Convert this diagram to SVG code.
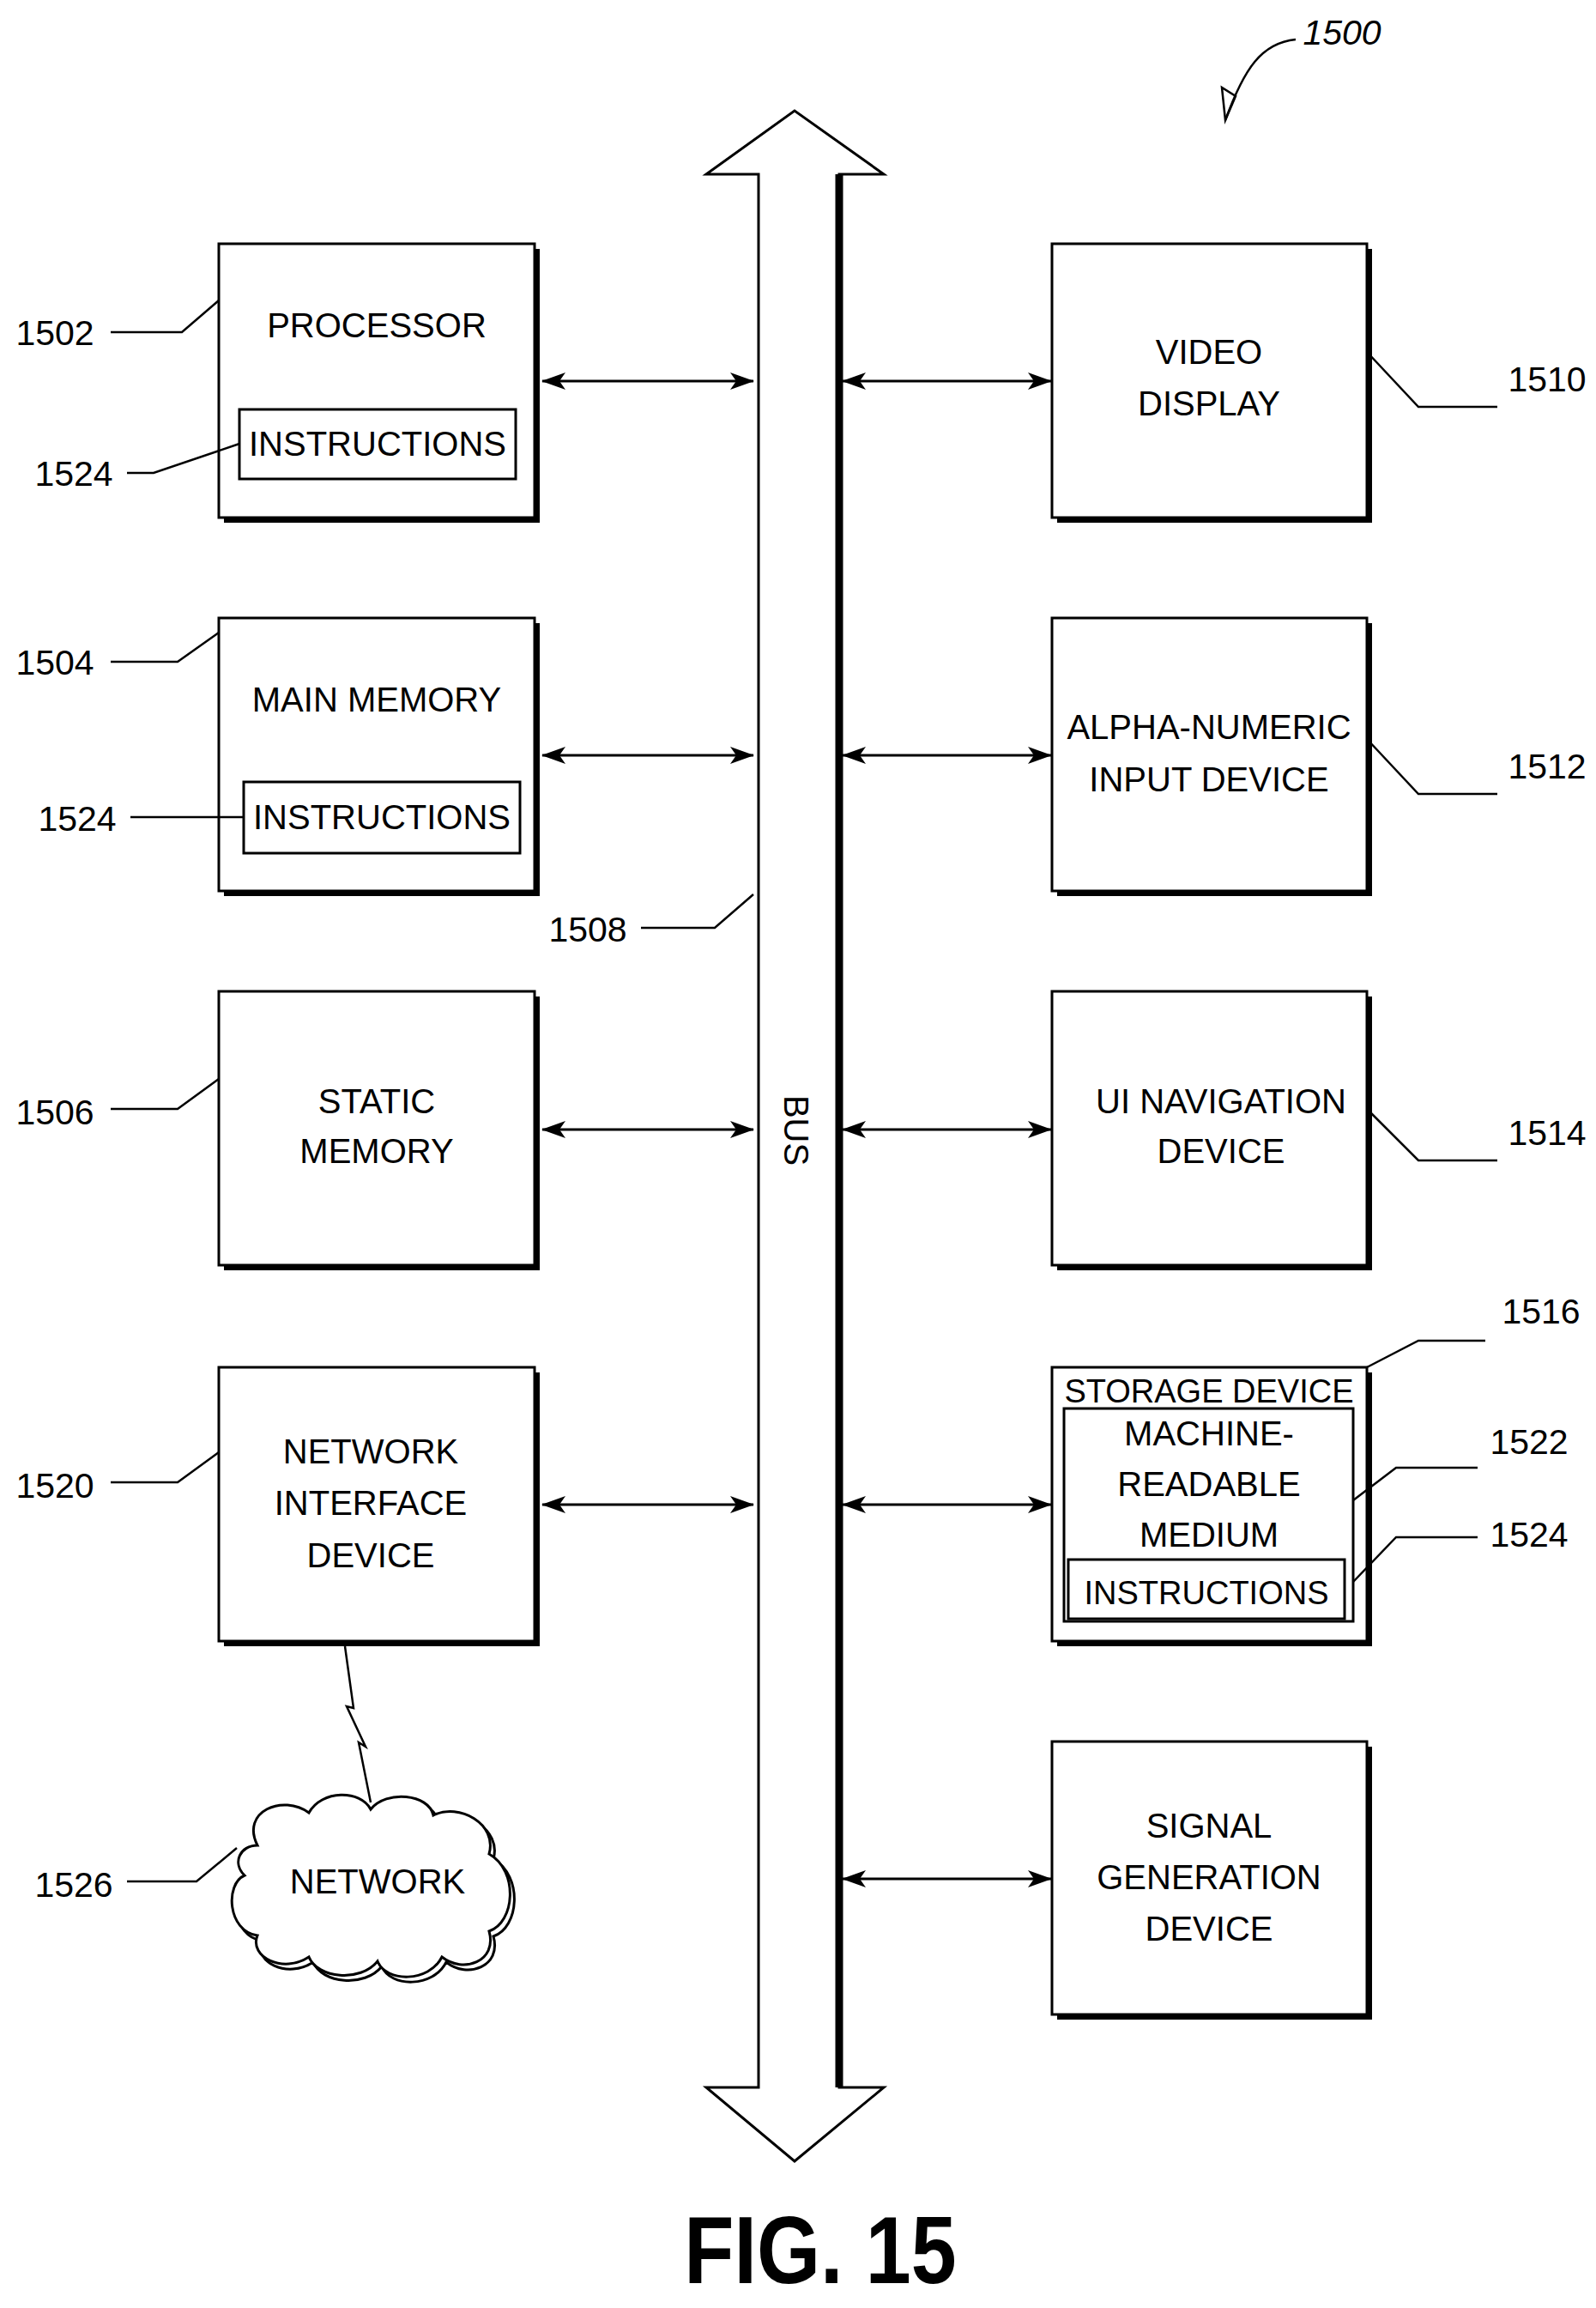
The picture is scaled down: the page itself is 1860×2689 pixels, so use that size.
<svg xmlns="http://www.w3.org/2000/svg" width="1860" height="2689" viewBox="0 0 1860 2689">
<style>
.sh{fill:#000}
.bx{fill:#fff;stroke:#000;stroke-width:3}
.ib{fill:none;stroke:#000;stroke-width:3}
.t{font-family:"Liberation Sans",Arial,sans-serif;font-size:40px;text-anchor:middle;fill:#000}
.n{font-family:"Liberation Sans",Arial,sans-serif;font-size:41px;text-anchor:middle;fill:#000}
.ld{fill:none;stroke:#000;stroke-width:2.5}
.ar{stroke:#000;stroke-width:3;marker-start:url(#a);marker-end:url(#a)}
</style>
<defs>
<marker id="a" viewBox="0 0 28 20" refX="27" refY="10" markerWidth="28" markerHeight="20" markerUnits="userSpaceOnUse" orient="auto-start-reverse">
<path d="M0,0 L28,10 L0,20 L7,10 Z" fill="#000"/>
</marker>
</defs>
<rect width="1860" height="2689" fill="#fff"/>

<g id="bus">
<path d="M884,203 L823,203 L926,129 L1030,203 L978,203 L978,2432 L1030,2432 L926,2518 L823,2432 L884,2432 Z" fill="#fff" stroke="#000" stroke-width="3"/>
<line x1="978" y1="203" x2="978" y2="2432" stroke="#000" stroke-width="9"/>
<text class="t" transform="translate(914,1317) rotate(90)">BUS</text>
</g>

<g id="n1502">
<rect class="sh" x="261" y="290" width="368" height="319"/>
<rect class="bx" x="255" y="284" width="368" height="319"/>
<text class="t" x="439" y="393">PROCESSOR</text>
<rect class="ib" x="279" y="477" width="322" height="81"/>
<text class="t" x="440" y="531">INSTRUCTIONS</text>
</g>
<g id="n1504">
<rect class="sh" x="261" y="726" width="368" height="318"/>
<rect class="bx" x="255" y="720" width="368" height="318"/>
<text class="t" x="439" y="829">MAIN MEMORY</text>
<rect class="ib" x="284" y="911" width="322" height="83"/>
<text class="t" x="445" y="966">INSTRUCTIONS</text>
</g>
<g id="n1506">
<rect class="sh" x="261" y="1161" width="368" height="319"/>
<rect class="bx" x="255" y="1155" width="368" height="319"/>
<text class="t" x="439" y="1297">STATIC</text>
<text class="t" x="439" y="1355">MEMORY</text>
</g>
<g id="n1520">
<rect class="sh" x="261" y="1599" width="368" height="319"/>
<rect class="bx" x="255" y="1593" width="368" height="319"/>
<text class="t" x="432" y="1705">NETWORK</text>
<text class="t" x="432" y="1765">INTERFACE</text>
<text class="t" x="432" y="1826">DEVICE</text>
</g>
<g id="n1526">
<path d="M300,2150 C280,2110 330,2090 360,2112 C375,2085 420,2085 432,2108 C450,2085 500,2090 505,2115 C535,2100 580,2125 570,2160 C605,2180 600,2240 570,2250 C580,2285 540,2300 515,2280 C500,2310 450,2310 440,2285 C420,2310 370,2305 360,2280 C330,2300 290,2280 300,2255 C265,2250 262,2195 285,2185 C270,2170 280,2150 300,2150 Z" fill="#fff" stroke="#000" stroke-width="3" transform="translate(5,6)"/>
<path d="M300,2150 C280,2110 330,2090 360,2112 C375,2085 420,2085 432,2108 C450,2085 500,2090 505,2115 C535,2100 580,2125 570,2160 C605,2180 600,2240 570,2250 C580,2285 540,2300 515,2280 C500,2310 450,2310 440,2285 C420,2310 370,2305 360,2280 C330,2300 290,2280 300,2255 C265,2250 262,2195 285,2185 C270,2170 280,2150 300,2150 Z" fill="#fff" stroke="#000" stroke-width="3"/>
<text class="t" x="440" y="2206">NETWORK</text>
</g>

<g id="n1510">
<rect class="sh" x="1232" y="290" width="367" height="319"/>
<rect class="bx" x="1226" y="284" width="367" height="319"/>
<text class="t" x="1409" y="424">VIDEO</text>
<text class="t" x="1409" y="484">DISPLAY</text>
</g>
<g id="n1512">
<rect class="sh" x="1232" y="726" width="367" height="318"/>
<rect class="bx" x="1226" y="720" width="367" height="318"/>
<text class="t" x="1409" y="861">ALPHA-NUMERIC</text>
<text class="t" x="1409" y="922">INPUT DEVICE</text>
</g>
<g id="n1514">
<rect class="sh" x="1232" y="1161" width="367" height="319"/>
<rect class="bx" x="1226" y="1155" width="367" height="319"/>
<text class="t" x="1423" y="1297">UI NAVIGATION</text>
<text class="t" x="1423" y="1355">DEVICE</text>
</g>
<g id="n1516">
<rect class="sh" x="1232" y="1599" width="367" height="319"/>
<rect class="bx" x="1226" y="1593" width="367" height="319"/>
<text class="t" x="1409" y="1634" style="font-size:38px">STORAGE DEVICE</text>
<rect class="ib" x="1240" y="1641" width="337" height="248"/>
<text class="t" x="1409" y="1684">MACHINE-</text>
<text class="t" x="1409" y="1743">READABLE</text>
<text class="t" x="1409" y="1802">MEDIUM</text>
<rect class="ib" x="1245" y="1817" width="322" height="69"/>
<text class="t" x="1406" y="1869" style="font-size:38px">INSTRUCTIONS</text>
</g>
<g id="n1518">
<rect class="sh" x="1232" y="2035" width="367" height="318"/>
<rect class="bx" x="1226" y="2029" width="367" height="318"/>
<text class="t" x="1409" y="2141">SIGNAL</text>
<text class="t" x="1409" y="2201">GENERATION</text>
<text class="t" x="1409" y="2261">DEVICE</text>
</g>

<g id="connectors">
<line class="ar" x1="632" y1="444" x2="878" y2="444"/>
<line class="ar" x1="982" y1="444" x2="1225" y2="444"/>
<line class="ar" x1="632" y1="880" x2="878" y2="880"/>
<line class="ar" x1="982" y1="880" x2="1225" y2="880"/>
<line class="ar" x1="632" y1="1316" x2="878" y2="1316"/>
<line class="ar" x1="982" y1="1316" x2="1225" y2="1316"/>
<line class="ar" x1="632" y1="1753" x2="878" y2="1753"/>
<line class="ar" x1="982" y1="1753" x2="1225" y2="1753"/>
<line class="ar" x1="982" y1="2189" x2="1225" y2="2189"/>
<polyline class="ld" points="402,1918 412,1990 404,1988 426,2035 418,2030 432,2100"/>
</g>

<g id="labels">
<text class="n" x="64" y="402">1502</text>
<polyline class="ld" points="129,387 212,387 255,350"/>
<text class="n" x="86" y="566">1524</text>
<polyline class="ld" points="148,551 179,551 279,517"/>
<text class="n" x="64" y="786">1504</text>
<polyline class="ld" points="129,771 207,771 255,737"/>
<text class="n" x="90" y="968">1524</text>
<polyline class="ld" points="152,952 284,952"/>
<text class="n" x="685" y="1097">1508</text>
<polyline class="ld" points="747,1081 833,1081 878,1042"/>
<text class="n" x="64" y="1310">1506</text>
<polyline class="ld" points="129,1292 207,1292 255,1257"/>
<text class="n" x="64" y="1745">1520</text>
<polyline class="ld" points="129,1727 207,1727 255,1692"/>
<text class="n" x="86" y="2210">1526</text>
<polyline class="ld" points="148,2192 229,2192 276,2153"/>
<text class="n" x="1803" y="456">1510</text>
<polyline class="ld" points="1593,410 1653,474 1745,474"/>
<text class="n" x="1803" y="907">1512</text>
<polyline class="ld" points="1593,861 1653,925 1745,925"/>
<text class="n" x="1803" y="1334">1514</text>
<polyline class="ld" points="1593,1292 1653,1352 1745,1352"/>
<text class="n" x="1796" y="1542">1516</text>
<polyline class="ld" points="1593,1593 1653,1562 1731,1562"/>
<text class="n" x="1782" y="1694">1522</text>
<polyline class="ld" points="1577,1748 1627,1710 1722,1710"/>
<text class="n" x="1782" y="1802">1524</text>
<polyline class="ld" points="1577,1843 1627,1791 1722,1791"/>
<text class="n" x="1564" y="52" style="font-style:italic">1500</text>
<path class="ld" d="M1510,46 C1470,50 1450,80 1428,140"/>
<path d="M1428,140 L1424,102 L1440,112 Z" fill="none" stroke="#000" stroke-width="2.5"/>
<text transform="translate(956,2660) scale(0.85,1)" style="font-family:'Liberation Sans',Arial,sans-serif;font-weight:bold;font-size:112px;text-anchor:middle">FIG. 15</text>
</g>
</svg>
